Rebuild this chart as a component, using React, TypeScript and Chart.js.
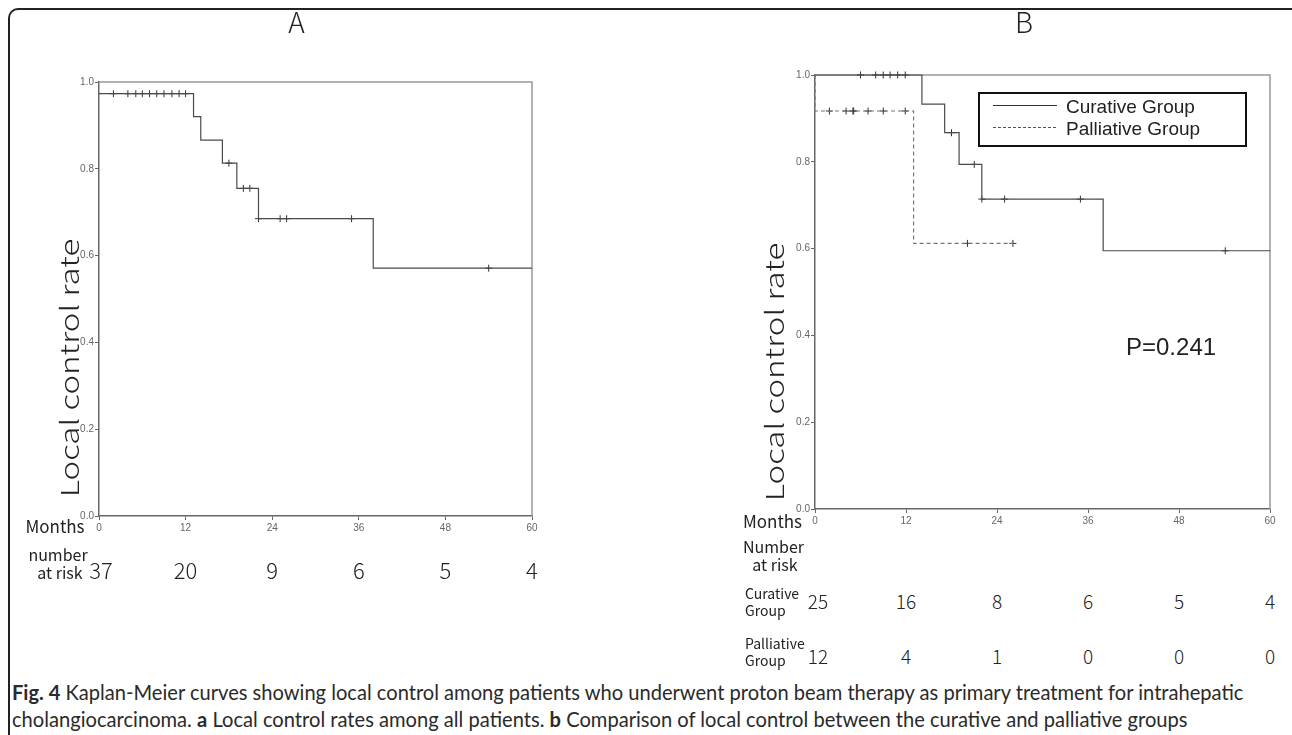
import React, { useEffect, useLayoutEffect, useRef, useState } from "react";
import { Chart, registerables } from "chart.js";
Chart.register(...registerables);

// ---------- data ----------
const MONTH_TICKS = [0, 12, 24, 36, 48, 60];
const RATE_TICKS = [0, 0.2, 0.4, 0.6, 0.8, 1.0];

// Panel A: all patients
const allTimes = [0, 13.1, 14.1, 17.1, 19.1, 22.1, 38.0, 60];
const allRate = [0.973, 0.92, 0.866, 0.813, 0.755, 0.685, 0.571, 0.571];
const allCensored = [2.0, 4.0, 5.1, 6.0, 7.0, 8.0, 9.0, 10.1, 11.1, 12.0, 18.0, 20.0, 20.9, 22.1, 25.1, 26.0, 35.0, 54.0];

// Panel B: curative group
const curTimes = [0, 14.1, 17.1, 19.0, 22.0, 38.0, 60];
const curRate = [1.0, 0.933, 0.867, 0.794, 0.714, 0.595, 0.595];
const curCensored = [6.0, 8.0, 9.0, 9.9, 10.9, 11.9, 18.0, 21.0, 22.0, 25.0, 35.0, 54.1];

// Panel B: palliative group
const palTimes = [0, 0, 13.0, 26.1];
const palRate = [1.0, 0.917, 0.612, 0.612];
const palCensored = [1.9, 4.1, 5.0, 5.1, 7.0, 9.0, 11.9, 20.1, 26.1];

// numbers at risk
const riskAll = [37, 20, 9, 6, 5, 4];
const riskCur = [25, 16, 8, 6, 5, 4];
const riskPal = [12, 4, 1, 0, 0, 0];

const CAPTION_1 = " Kaplan-Meier curves showing local control among patients who underwent proton beam therapy as primary treatment for intrahepatic";
const CAPTION_2A = "cholangiocarcinoma. ";
const CAPTION_2B = " Local control rates among all patients. ";
const CAPTION_2C = " Comparison of local control between the curative and palliative groups";

// ---------- helpers ----------
const JP = '"Noto Sans CJK JP", "Noto Sans", sans-serif';
const ARIAL = '"Liberation Sans", Arial, sans-serif';
const CAPFONT = 'Lato, "Open Sans", "Liberation Sans", sans-serif';

function rateAt(times: number[], rates: number[], t: number) {
  let v = rates[0];
  for (let i = 0; i < times.length; i++) if (times[i] <= t) v = rates[i];
  return v;
}

function curve(times: number[], rates: number[], dashed: boolean) {
  return {
    data: times.map((t, i) => ({ x: t, y: rates[i] })),
    stepped: "before" as const,
    borderColor: dashed ? "#777" : "#4a4a4a",
    borderWidth: 1.2,
    borderDash: dashed ? [4, 3] : [],
    pointRadius: 0,
    fill: false,
    clip: 4,
  };
}

function censors(times: number[], rates: number[], cens: number[]) {
  return {
    data: cens.map((t) => ({ x: t, y: rateAt(times, rates, t) })),
    showLine: false,
    pointStyle: "cross" as const,
    pointRadius: 3.5,
    pointBorderColor: "#333",
    pointBorderWidth: 1,
    borderColor: "#333",
    clip: 8,
  };
}

const framePlugin = {
  id: "frameTR",
  beforeDatasetsDraw(chart: any) {
    const { ctx, chartArea } = chart;
    const { left, top, right, bottom } = chartArea;
    ctx.save();
    ctx.strokeStyle = "#999";
    ctx.lineWidth = 1.5;
    ctx.beginPath();
    ctx.moveTo(left, top);
    ctx.lineTo(right, top);
    ctx.lineTo(right, bottom);
    ctx.stroke();
    ctx.restore();
  },
};

function makeConfig(datasets: any[], padding: any): any {
  const tickFont = { family: ARIAL, size: 10 };
  return {
    type: "line",
    data: { datasets },
    options: {
      animation: false,
      responsive: false,
      layout: { padding },
      plugins: { legend: { display: false }, tooltip: { enabled: false } },
      scales: {
        x: {
          type: "linear",
          min: 0,
          max: 60,
          afterBuildTicks: (s: any) => {
            s.ticks = MONTH_TICKS.map((v) => ({ value: v }));
          },
          afterFit: (s: any) => {
            s.height = 20;
          },
          ticks: { font: tickFont, color: "#666", padding: 2, maxRotation: 0, autoSkip: false },
          grid: { drawOnChartArea: false, tickLength: 4, color: "#666", lineWidth: 1 },
          border: { color: "#666", width: 1.5 },
        },
        y: {
          type: "linear",
          min: 0,
          max: 1,
          afterBuildTicks: (s: any) => {
            s.ticks = RATE_TICKS.map((v) => ({ value: v }));
          },
          afterFit: (s: any) => {
            s.width = 40;
          },
          ticks: {
            font: tickFont,
            color: "#666",
            padding: 1,
            autoSkip: false,
            callback: (v: any) => Number(v).toFixed(1),
          },
          grid: { drawOnChartArea: false, tickLength: 4, color: "#666", lineWidth: 1 },
          border: { color: "#666", width: 1.5 },
        },
      },
    },
    plugins: [framePlugin],
  };
}

const CW = 646;
const CH = 560;
const A_LEFT = 0;
const B_LEFT = 646;

type TProps = {
  x: number;
  y: number;
  size: number;
  children: React.ReactNode;
  align?: "left" | "center" | "right";
  family?: string;
  weight?: number;
  color?: string;
};
const T = ({ x, y, size, children, align = "center", family = JP, weight = 400, color = "#222" }: TProps) => (
  <div
    style={{
      position: "absolute",
      left: x,
      top: y,
      transform: `translate(${align === "center" ? "-50%" : align === "right" ? "-100%" : "0"}, -50%)`,
      fontSize: size,
      fontFamily: family,
      fontWeight: weight,
      lineHeight: 1,
      whiteSpace: "nowrap",
      color,
    }}
  >
    {children}
  </div>
);

function VTitle({ x, y, len }: { x: number; y: number; len: number }) {
  const r = useRef<HTMLDivElement>(null);
  const [s, setS] = useState(1);
  useLayoutEffect(() => {
    if (r.current && r.current.offsetWidth > 0) setS(len / r.current.offsetWidth);
  }, [len]);
  return (
    <div
      ref={r}
      style={{
        position: "absolute",
        left: x,
        top: y,
        transform: `translate(-50%, -50%) rotate(-90deg) scaleX(${s})`,
        fontSize: 25,
        fontFamily: JP,
        fontWeight: 300,
        lineHeight: 1,
        whiteSpace: "nowrap",
        color: "#222",
      }}
    >
      Local control rate
    </div>
  );
}

export default function App() {
  const refA = useRef<HTMLCanvasElement>(null);
  const refB = useRef<HTMLCanvasElement>(null);
  const cap1 = useRef<HTMLSpanElement>(null);
  const cap2 = useRef<HTMLSpanElement>(null);
  const [xsA, setXsA] = useState<number[]>([]);
  const [xsB, setXsB] = useState<number[]>([]);
  const [sc, setSc] = useState<[number, number]>([1, 1]);

  useEffect(() => {
    const a = new Chart(
      refA.current!,
      makeConfig(
        [curve(allTimes, allRate, false), censors(allTimes, allRate, allCensored)],
        { left: 59, right: 114, top: 82, bottom: 24 }
      )
    );
    const b = new Chart(
      refB.current!,
      makeConfig(
        [
          curve(curTimes, curRate, false),
          curve(palTimes, palRate, true),
          censors(curTimes, curRate, curCensored),
          censors(palTimes, palRate, palCensored),
        ],
        { left: 129, right: 22, top: 75, bottom: 31 }
      )
    );
    setXsA(MONTH_TICKS.map((m) => (a.scales as any).x.getPixelForValue(m) + A_LEFT));
    setXsB(MONTH_TICKS.map((m) => (b.scales as any).x.getPixelForValue(m) + B_LEFT));
    return () => {
      a.destroy();
      b.destroy();
    };
  }, []);

  useLayoutEffect(() => {
    const w1 = cap1.current ? cap1.current.offsetWidth : 0;
    const w2 = cap2.current ? cap2.current.offsetWidth : 0;
    if (w1 > 0 && w2 > 0) setSc([1231 / w1, 1176 / w2]);
  }, []);

  const capStyle = (top: number, s: number): React.CSSProperties => ({
    position: "absolute",
    left: 12,
    top,
    fontFamily: CAPFONT,
    fontSize: 21,
    lineHeight: "21px",
    whiteSpace: "nowrap",
    color: "#2a2a2a",
    display: "inline-block",
    transformOrigin: "0 0",
    transform: `scaleX(${s})`,
  });

  return (
    <div
      style={{
        position: "absolute",
        left: 0,
        top: 0,
        width: 1292,
        height: 735,
        background: "#fff",
        overflow: "hidden",
      }}
    >
      {/* figure frame */}
      <div
        style={{
          position: "absolute",
          left: 8,
          top: 8,
          width: 1400,
          height: 900,
          borderLeft: "2px solid #222",
          borderTop: "2px solid #222",
          borderTopLeftRadius: 10,
        }}
      />

      <canvas
        ref={refA}
        width={CW}
        height={CH}
        style={{ position: "absolute", left: A_LEFT, top: 0, width: CW, height: CH }}
      />
      <canvas
        ref={refB}
        width={CW}
        height={CH}
        style={{ position: "absolute", left: B_LEFT, top: 0, width: CW, height: CH }}
      />

      {/* Panel A texts */}
      <T x={296.5} y={21} size={28} weight={300}>A</T>
      <VTitle x={68} y={367.5} len={258} />
      <T x={55} y={525} size={17}>Months</T>
      <T x={58} y={554} size={16}>number</T>
      <T x={60} y={572} size={16}>at risk</T>
      {xsA.map((x, i) => (
        <T key={"a" + i} x={x + (i === 0 ? 2 : 0)} y={568.5} size={22} weight={300}>
          {riskAll[i]}
        </T>
      ))}

      {/* Panel B texts */}
      <T x={1024} y={21} size={28} weight={300}>B</T>
      <VTitle x={773} y={372} len={258} />
      <T x={772.5} y={520} size={17}>Months</T>
      <T x={773.5} y={546} size={16}>Number</T>
      <T x={775} y={564} size={16}>at risk</T>
      <T x={745} y={592.5} size={14} align="left">Curative</T>
      <T x={745} y={610} size={14} align="left">Group</T>
      <T x={745} y={642.5} size={14} align="left">Palliative</T>
      <T x={745} y={659.5} size={14} align="left">Group</T>
      {xsB.map((x, i) => (
        <T key={"c" + i} x={x + (i === 0 ? 3 : 0)} y={600} size={19} weight={300}>
          {riskCur[i]}
        </T>
      ))}
      {xsB.map((x, i) => (
        <T key={"p" + i} x={x + (i === 0 ? 3 : 0)} y={655} size={19} weight={300}>
          {riskPal[i]}
        </T>
      ))}

      {/* Legend B */}
      <div
        style={{
          position: "absolute",
          left: 978,
          top: 92,
          width: 269,
          height: 55,
          boxSizing: "border-box",
          border: "2px solid #111",
        }}
      />
      <div style={{ position: "absolute", left: 993, top: 104.5, width: 64, height: 1, background: "#333" }} />
      <div
        style={{
          position: "absolute",
          left: 993,
          top: 126.5,
          width: 64,
          height: 1,
          background: "repeating-linear-gradient(to right, #555 0 3px, transparent 3px 5px)",
        }}
      />
      <T x={1066} y={106} size={19} align="left" family={ARIAL}>Curative Group</T>
      <T x={1066} y={128} size={19} align="left" family={ARIAL}>Palliative Group</T>

      <T x={1126} y={347} size={24} align="left" family={ARIAL}>P=0.241</T>

      {/* Caption */}
      <span ref={cap1} style={capStyle(681, sc[0])}>
        <b>Fig. 4</b>
        {CAPTION_1}
      </span>
      <span ref={cap2} style={capStyle(708, sc[1])}>
        {CAPTION_2A}
        <b>a</b>
        {CAPTION_2B}
        <b>b</b>
        {CAPTION_2C}
      </span>
    </div>
  );
}
